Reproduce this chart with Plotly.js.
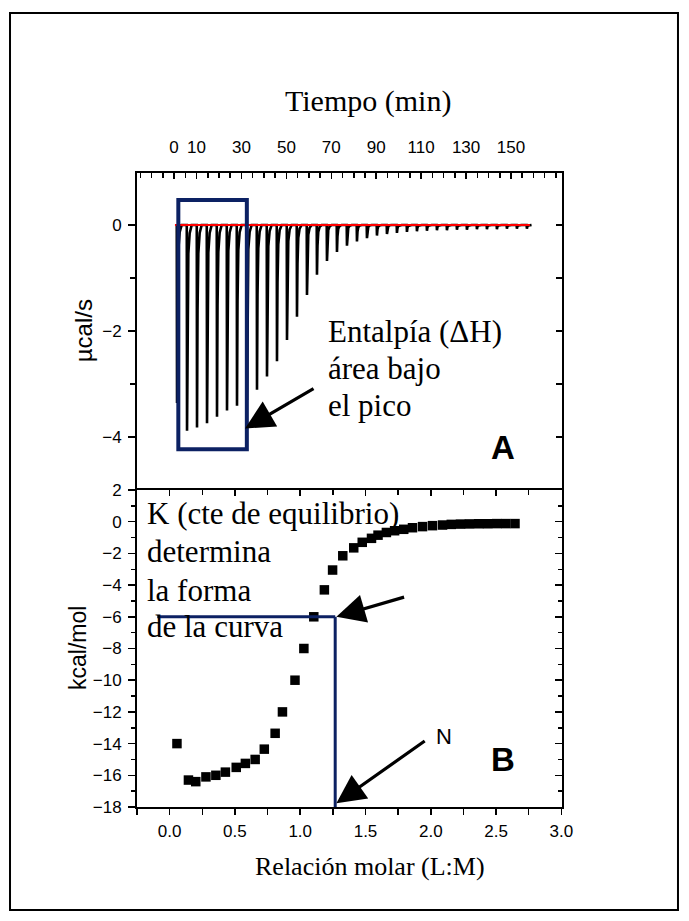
<!DOCTYPE html>
<html><head><meta charset="utf-8">
<script src="https://cdn.plot.ly/plotly-3.0.1.min.js"></script>
<style>html,body{margin:0;padding:0;background:#fff}</style>
</head><body><div id="chart" style="width:689px;height:921px"></div>
<script>
// ---------- Panel A: raw thermogram ----------
const injectionTime = [1.2, 5.65, 10.1, 14.55, 19.0, 23.45, 27.9, 32.35, 36.8, 41.25, 45.7, 50.15,
  54.6, 59.05, 63.5, 67.95, 72.4, 76.85, 81.3, 85.75, 90.2, 94.65, 99.1, 103.55, 108.0, 112.45,
  116.9, 121.35, 125.8, 130.25, 134.7, 139.15, 143.6, 148.05, 152.5, 156.95];
const peakHeight = [-3.36, -3.88, -3.82, -3.74, -3.62, -3.50, -3.41, -3.30, -3.11, -2.86, -2.57, -2.17,
  -1.73, -1.32, -0.94, -0.68, -0.51, -0.39, -0.31, -0.25, -0.20, -0.17, -0.15, -0.13, -0.12, -0.11,
  -0.10, -0.10, -0.09, -0.09, -0.08, -0.08, -0.08, -0.07, -0.07, -0.07];
const baselineTime = [0.4, 158.4];
const baselineValue = [0, 0];
const timeTicks = [0, 10, 30, 50, 70, 90, 110, 130, 150];

// ---------- Panel B: integrated heats ----------
const molarRatio = [0.056, 0.144, 0.200, 0.278, 0.354, 0.427, 0.510, 0.580, 0.655, 0.725, 0.808, 0.864,
  0.960, 1.028, 1.104, 1.185, 1.248, 1.326, 1.410, 1.475, 1.546, 1.596, 1.660, 1.723, 1.793, 1.860,
  1.937, 2.013, 2.090, 2.157, 2.228, 2.296, 2.367, 2.435, 2.505, 2.574, 2.645];
const enthalpy = [-14.0, -16.3, -16.4, -16.1, -16.0, -15.8, -15.5, -15.25, -15.0, -14.35, -13.35, -12.0,
  -10.0, -8.0, -6.0, -4.3, -3.05, -2.15, -1.65, -1.3, -1.05, -0.85, -0.68, -0.57, -0.48, -0.38,
  -0.31, -0.25, -0.21, -0.17, -0.15, -0.14, -0.13, -0.13, -0.12, -0.12, -0.12];
const ratioTicks = [0, 0.5, 1.0, 1.5, 2.0, 2.5, 3.0];
const ratioTickText = ['0.0', '0.5', '1.0', '1.5', '2.0', '2.5', '3.0'];
const ratioMinor = [-0.25, 0.25, 0.75, 1.25, 1.75, 2.25, 2.75];

// peak profile (offset in min, fraction of peak depth) used to draw each injection spike
const profileDt = [0, 0.12, 0.35, 0.7, 1.3, 2.2];
const profileFrac = [0, 1, 0.42, 0.14, 0.04, 0];

const thermoX = [], thermoY = [];
injectionTime.forEach((t, i) => {
  profileDt.forEach((d, k) => { thermoX.push(t + d); thermoY.push(peakHeight[i] * profileFrac[k]); });
});

const NAVY = '#0c2163';
const SANS = 'Liberation Sans, Arial, sans-serif';
const SERIF = 'Liberation Serif, Times New Roman, serif';
const tickFont = {family: SANS, size: 17, color: '#000'};

const traces = [
  {x: thermoX, y: thermoY, xaxis: 'x2', yaxis: 'y2', mode: 'lines',
   line: {color: '#000', width: 2.6}, hoverinfo: 'skip', showlegend: false},
  {x: baselineTime, y: baselineValue, xaxis: 'x2', yaxis: 'y2', mode: 'lines',
   line: {color: '#ff0000', width: 2}, hoverinfo: 'skip', showlegend: false},
  {x: molarRatio, y: enthalpy, xaxis: 'x', yaxis: 'y', mode: 'markers',
   marker: {symbol: 'square', size: 9.5, color: '#000'}, showlegend: false},
  // carriers for the mirrored (inside) tick axes
  {x: [null], y: [null], xaxis: 'x3', yaxis: 'y', showlegend: false, hoverinfo: 'skip'},
  {x: [null], y: [null], xaxis: 'x', yaxis: 'y3', showlegend: false, hoverinfo: 'skip'},
  {x: [null], y: [null], xaxis: 'x2', yaxis: 'y4', showlegend: false, hoverinfo: 'skip'}
];

const axBase = {showline: true, linecolor: '#000', linewidth: 2, showgrid: false, zeroline: false,
  tickcolor: '#000', tickwidth: 1.5, tickfont: tickFont, automargin: false};

const txt = (text, x, y, size, family, extra) => Object.assign({
  xref: 'paper', yref: 'paper', x: x, y: y, xanchor: 'center', yanchor: 'middle', showarrow: false,
  text: text, font: {family: family, size: size, color: '#000'}}, extra || {});

const layout = {
  width: 689, height: 921,
  margin: {l: 137, r: 127, t: 173, b: 114, pad: 0},
  paper_bgcolor: '#fff', plot_bgcolor: '#fff',
  showlegend: false,
  xaxis: Object.assign({}, axBase, {
    domain: [0, 1], anchor: 'y', range: [-0.25, 3.005],
    tickmode: 'array', tickvals: ratioTicks, ticktext: ratioTickText,
    ticks: 'outside', ticklen: 6, ticklabelstandoff: 2,
    minor: {tickmode: 'array', tickvals: ratioMinor, ticks: 'outside', ticklen: 6, tickwidth: 1.5, tickcolor: '#000'}
  }),
  xaxis3: Object.assign({}, axBase, {
    overlaying: 'x', anchor: 'y', side: 'top', range: [-0.25, 3.005],
    tickmode: 'array', tickvals: ratioTicks, showticklabels: false,
    ticks: 'inside', ticklen: 6,
    minor: {tickmode: 'array', tickvals: ratioMinor, ticks: 'inside', ticklen: 5, tickwidth: 1.5, tickcolor: '#000'}
  }),
  yaxis: Object.assign({}, axBase, {
    domain: [0, 0.5], anchor: 'x', range: [-18, 2],
    tickmode: 'linear', tick0: 0, dtick: 2, ticks: 'outside', ticklen: 7, ticklabelstandoff: 3,
    minor: {dtick: 1, ticks: 'outside', ticklen: 4, tickwidth: 1.5, tickcolor: '#000'}
  }),
  yaxis3: Object.assign({}, axBase, {
    overlaying: 'y', anchor: 'x', side: 'right', range: [-18, 2],
    tickmode: 'linear', tick0: 0, dtick: 2, ticks: 'inside', ticklen: 7, showticklabels: false,
    minor: {dtick: 1, ticks: 'inside', ticklen: 4, tickwidth: 1.5, tickcolor: '#000'}
  }),
  xaxis2: Object.assign({}, axBase, {
    domain: [0, 1], anchor: 'y2', side: 'top', range: [-16.5, 172.7],
    tickmode: 'array', tickvals: timeTicks, ticks: 'inside', ticklen: 6, ticklabelstandoff: 11,
    minor: {tick0: 0, dtick: 5, ticks: 'inside', ticklen: 5, tickwidth: 1.5, tickcolor: '#000'}
  }),
  yaxis2: Object.assign({}, axBase, {
    domain: [0.5, 1], anchor: 'x2', range: [-5, 0.98],
    tickmode: 'array', tickvals: [0, -2, -4], ticks: 'outside', ticklen: 7, ticklabelstandoff: 3,
    minor: {tickmode: 'array', tickvals: [-1, -3, -5], ticks: 'outside', ticklen: 5, tickwidth: 1.5, tickcolor: '#000'}
  }),
  yaxis4: Object.assign({}, axBase, {
    overlaying: 'y2', anchor: 'x2', side: 'right', range: [-5, 0.98],
    tickmode: 'linear', tick0: 0, dtick: 1, ticks: 'inside', ticklen: 6, showticklabels: false
  }),
  shapes: [
    // outer frame
    {type: 'rect', xref: 'paper', yref: 'paper', x0: -0.2988, x1: 1.2729, y0: -0.1625, y1: 1.2524,
     line: {color: '#000', width: 2}},
    // box around first peaks
    {type: 'rect', xref: 'x2', yref: 'y2', x0: 1.9, x1: 32.4, y0: -4.23, y1: 0.47,
     line: {color: NAVY, width: 4}},
    // N guide lines
    {type: 'line', xref: 'x', yref: 'y', x0: -0.095, x1: 1.268, y0: -6, y1: -6, line: {color: NAVY, width: 3}},
    {type: 'line', xref: 'x', yref: 'y', x0: 1.268, x1: 1.268, y0: -6, y1: -18, line: {color: NAVY, width: 3}}
  ],
  annotations: [
    // axis titles
    txt('Tiempo (min)', 0.5435, 1.1136, 30, SERIF),
    txt('Relación molar (L:M)', 0.548, -0.0931, 26, SERIF),
    txt('µcal/s', -0.124, 0.7508, 24, SANS, {textangle: -90}),
    txt('kcal/mol', -0.139, 0.2508, 23, SANS, {textangle: -90}),
    // arrow A
    {xref: 'x2', yref: 'y2', axref: 'x2', ayref: 'y2', x: 31.6, y: -3.84, ax: 62.75, ay: -3.07,
     text: '', showarrow: true, arrowhead: 2, arrowsize: 1.8, arrowwidth: 3.2, arrowcolor: '#000'},
    {xref: 'x2', yref: 'y2', x: 67.6, y: -2.01, xanchor: 'left', yanchor: 'middle', showarrow: false,
     text: 'Entalpía (ΔH)', font: {family: SERIF, size: 31, color: '#000'}},
    {xref: 'x2', yref: 'y2', x: 67.6, y: -2.70, xanchor: 'left', yanchor: 'middle', showarrow: false,
     text: 'área bajo', font: {family: SERIF, size: 31, color: '#000'}},
    {xref: 'x2', yref: 'y2', x: 67.6, y: -3.40, xanchor: 'left', yanchor: 'middle', showarrow: false,
     text: 'el pico', font: {family: SERIF, size: 31, color: '#000'}},
    {xref: 'x2', yref: 'y2', x: 146.4, y: -4.19, xanchor: 'center', yanchor: 'middle', showarrow: false,
     text: '<b>A</b>', font: {family: SANS, size: 33, color: '#000'}},
    // panel B text
    {xref: 'x', yref: 'y', x: -0.185, y: 0.53, xanchor: 'left', yanchor: 'middle', showarrow: false,
     text: 'K (cte de equilibrio)', font: {family: SERIF, size: 31, color: '#000'}},
    {xref: 'x', yref: 'y', x: -0.185, y: -1.89, xanchor: 'left', yanchor: 'middle', showarrow: false,
     text: 'determina', font: {family: SERIF, size: 31, color: '#000'}},
    {xref: 'x', yref: 'y', x: -0.185, y: -4.31, xanchor: 'left', yanchor: 'middle', showarrow: false,
     text: 'la forma', font: {family: SERIF, size: 31, color: '#000'}},
    {xref: 'x', yref: 'y', x: -0.185, y: -6.62, xanchor: 'left', yanchor: 'middle', showarrow: false,
     text: 'de la curva', font: {family: SERIF, size: 31, color: '#000'}},
    // arrows B
    {xref: 'x', yref: 'y', axref: 'x', ayref: 'y', x: 1.277, y: -6.0, ax: 1.807, ay: -4.73,
     text: '', showarrow: true, arrowhead: 2, arrowsize: 1.8, arrowwidth: 3.2, arrowcolor: '#000'},
    {xref: 'x', yref: 'y', axref: 'x', ayref: 'y', x: 1.277, y: -17.77, ax: 1.965, ay: -13.77,
     text: '', showarrow: true, arrowhead: 2, arrowsize: 1.8, arrowwidth: 3.2, arrowcolor: '#000'},
    {xref: 'x', yref: 'y', x: 2.105, y: -13.58, xanchor: 'center', yanchor: 'middle', showarrow: false,
     text: 'N', font: {family: SANS, size: 22, color: '#000'}},
    {xref: 'x', yref: 'y', x: 2.556, y: -15.03, xanchor: 'center', yanchor: 'middle', showarrow: false,
     text: '<b>B</b>', font: {family: SANS, size: 33, color: '#000'}}
  ]
};

Plotly.newPlot('chart', traces, layout, {staticPlot: true, displayModeBar: false});
</script>
</body></html>
